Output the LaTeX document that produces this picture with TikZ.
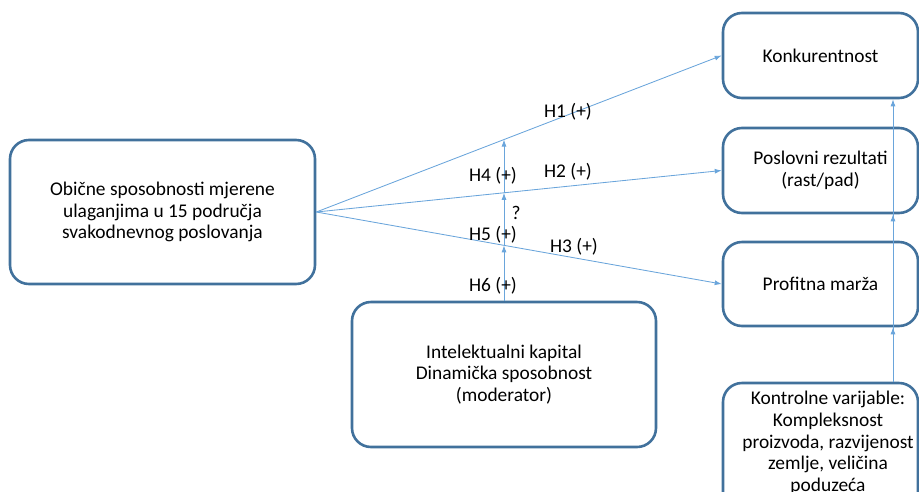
\documentclass[tikz,border=0pt]{standalone}
\usepackage{fontspec}
\setmainfont{Carlito}
\usetikzlibrary{arrows.meta,intersections}
\definecolor{boxline}{HTML}{41719C}
\definecolor{linkline}{HTML}{6AA5DB}
\tikzset{
  boxnode/.style={draw=boxline, line width=2.6pt, rounded corners=19pt,
    rectangle, align=center, inner sep=0pt},
  conn/.style={draw=linkline, line width=0.85pt,
    -{Latex[length=7pt,width=5pt]}},
  lbl/.style={inner sep=0pt, align=center},
}
\begin{document}
\begin{tikzpicture}[x=1pt,y=-1pt,font=\fontsize{19.4}{21.6}\selectfont]
\useasboundingbox (0,0) rectangle (919,491);
\clip (0,0) rectangle (919,491);

% independent variable
\node[boxnode, minimum width=305pt, minimum height=144pt] (L) at (162.5,212)
  {Obične sposobnosti mjerene\\ulaganjima u 15 područja\\svakodnevnog poslovanja};

% moderator
\node[boxnode, minimum width=304pt, minimum height=145pt] (D) at (504,374.5)
  {Intelektualni kapital\\Dinamička sposobnost\\(moderator)};

% outcomes
\node[boxnode, minimum width=195pt, minimum height=85pt] (K) at (820.5,55.5) {Konkurentnost};
\node[boxnode, minimum width=195pt, minimum height=85pt] (P) at (820.5,170.5) {Poslovni rezultati\\(rast/pad)};
\node[boxnode, minimum width=195pt, minimum height=84pt] (M) at (820.5,284) {Profitna marža};

% control variables
\node[boxnode, minimum width=195pt, minimum height=142pt] (C) at (820.5,454) {};
\node[lbl] (Ct) at (828,443)
  {Kontrolne varijable:\\Kompleksnost\\proizvoda, razvijenost\\zemlje, veličina\\poduzeća};

% hypotheses from the independent variable
\draw[conn, name path=h1] (L.east) -- (K.west);
\draw[conn, name path=h2] (L.east) -- (P.west);
\draw[conn, name path=h3] (L.east) -- (M.west);

% moderating effect
\path[name path=v] (D.north) -- ++(0,-250);
\path[name intersections={of=v and h1, by=x1}];
\path[name intersections={of=v and h2, by=x2}];
\path[name intersections={of=v and h3, by=x3}];
\draw[conn] (D.north) -- (x3);
\draw[conn] (x3) -- (x2);
\draw[conn] (x2) -- (x1);

% control variable links
\coordinate (cx) at (893,0);
\draw[conn] (C.north -| cx) -- (M.south -| cx);
\draw[conn] (C.north -| cx) -- (P.south -| cx);
\draw[conn] (C.north -| cx) -- (K.south -| cx);

% hypothesis labels
\node[lbl] (lh1) at (568,112) {H1 (+)};
\node[lbl] (lh2) at (568,172) {H2 (+)};
\node[lbl] (lh3) at (574,247) {H3 (+)};
\node[lbl] (lh4) at (493,176) {H4 (+)};
\node[lbl] (lq)  at (516,213) {?};
\node[lbl] (lh5) at (493,235) {H5 (+)};
\node[lbl] (lh6) at (493,286) {H6 (+)};
\end{tikzpicture}
\end{document}
